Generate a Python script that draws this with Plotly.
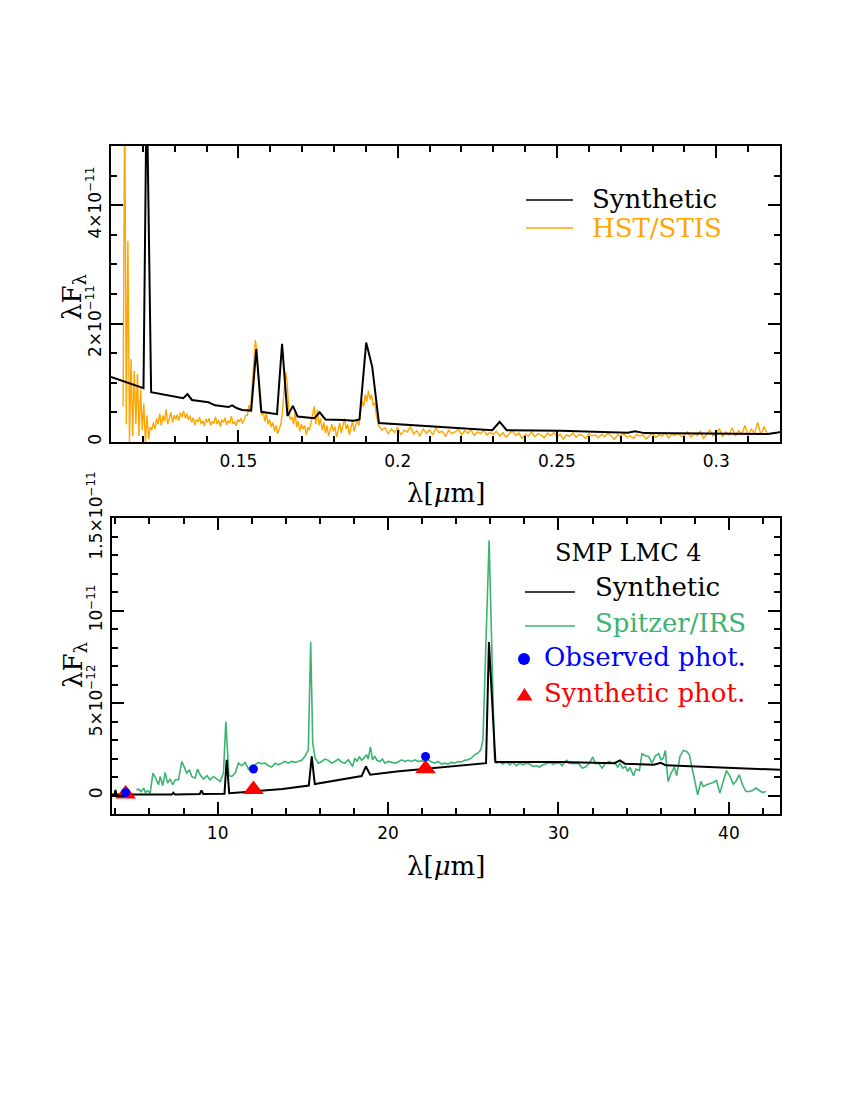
import plotly.graph_objects as go

# ---- top panel: UV (units of 1e-11) ----
syn_uv_wave = [0.110, 0.1202, 0.1212, 0.1226, 0.1327, 0.1340, 0.1354, 0.1406, 0.1427, 0.1469,
               0.1480, 0.1496, 0.1512, 0.1540, 0.1556, 0.1572, 0.1621, 0.1637, 0.1654, 0.1671,
               0.1686, 0.1738, 0.1755, 0.1773, 0.1831, 0.1862, 0.1880, 0.1901, 0.1920, 0.1941,
               0.2297, 0.2320, 0.2342, 0.2502, 0.2512, 0.2722, 0.2745, 0.2774, 0.3162, 0.3193, 0.320]
syn_uv_flux = [1.10, 0.91, 6.1, 0.84, 0.74, 0.81, 0.71, 0.67, 0.62, 0.59,
               0.62, 0.57, 0.54, 0.53, 1.57, 0.51, 0.47, 1.66, 0.44, 0.61,
               0.43, 0.40, 0.50, 0.38, 0.37, 0.36, 0.38, 1.68, 1.27, 0.32,
               0.20, 0.34, 0.20, 0.186, 0.19, 0.157, 0.18, 0.15, 0.135, 0.16, 0.17]

# HST/STIS, fine sampling below 0.1935 um
hst_start_a, hst_step_a = 0.1138, 0.0005
hst_flux_a = [0.6, 6.0, 0.3, 3.4, 0.0, 1.4, 0.1, 1.2, 0.3, 1.15, 0.1, 0.9, 0.2, 0.65, 0.0, 0.45, 0.05, 0.25,
              0.2, 0.33, 0.22, 0.4, 0.3, 0.48, 0.28, 0.45, 0.35, 0.55, 0.3, 0.42, 0.5, 0.33, 0.45,
              0.38, 0.46, 0.36, 0.5, 0.42, 0.52, 0.4, 0.48, 0.37, 0.45, 0.33, 0.41, 0.29, 0.38, 0.34,
              0.42, 0.3, 0.36, 0.27, 0.39, 0.33, 0.4, 0.28, 0.35, 0.31, 0.43, 0.3, 0.37, 0.26, 0.38,
              0.33, 0.41, 0.29, 0.36, 0.32, 0.44, 0.3, 0.35, 0.27, 0.38, 0.34, 0.4, 0.31, 0.37, 0.45,
              0.45, 0.62, 0.55, 0.9, 1.25, 1.72, 1.55, 0.95, 0.6, 0.45, 0.52, 0.35, 0.48, 0.3,
              0.38, 0.25, 0.33, 0.18, 0.28, 0.14, 0.22, 0.3,
              0.5, 0.85, 1.19, 1.0, 0.55, 0.38,
              0.42, 0.3, 0.5, 0.25, 0.35, 0.18, 0.3, 0.22, 0.28, 0.12, 0.25, 0.2, 0.34, 0.42, 0.6,
              0.3, 0.55, 0.28, 0.4, 0.2, 0.33, 0.15, 0.28, 0.1, 0.22, 0.3, 0.18, 0.26, 0.08, 0.2,
              0.32, 0.15, 0.28, 0.4, 0.22, 0.3, 0.12, 0.25, 0.35, 0.18, 0.3, 0.38, 0.28,
              0.45, 0.7, 0.6, 0.8, 0.68, 0.87, 0.72, 0.8, 0.62, 0.66, 0.45]
# coarser sampling redward
hst_start_b, hst_step_b = 0.194, 0.001
hst_flux_b = [0.28, 0.2, 0.24, 0.14, 0.22, 0.16, 0.25, 0.12, 0.2, 0.17, 0.26, 0.13, 0.19, 0.1, 0.22,
              0.15, 0.2, 0.12, 0.24, 0.16, 0.18, 0.1, 0.2, 0.14, 0.17, 0.22, 0.12, 0.19, 0.15, 0.21,
              0.11, 0.17, 0.14, 0.2, 0.12, 0.16,
              0.13, 0.18, 0.1, 0.16, 0.08, 0.14, 0.19, 0.11, 0.15, 0.06, 0.13, 0.1, 0.17, 0.09, 0.14,
              0.12, 0.07, 0.15, 0.11, 0.16,
              0.09, 0.13, 0.05, 0.12, 0.1, 0.15, 0.08, 0.13, 0.11, 0.06, 0.14, 0.1, 0.12, 0.07, 0.13,
              0.09, 0.15, 0.1, 0.04, 0.12,
              0.1, 0.14, 0.08, 0.11, 0.06, 0.13, 0.1, 0.12, 0.05, 0.11, 0.14, 0.08, 0.12, 0.1, 0.16,
              0.07, 0.13, 0.11, 0.15, 0.09,
              0.12, 0.17, 0.08, 0.14, 0.11, 0.18, 0.06, 0.13, 0.2, 0.1, 0.15, 0.22, 0.09, 0.17, 0.12,
              0.24, 0.1, 0.19, 0.13, 0.28,
              0.11, 0.22, 0.15, 0.33, 0.12, 0.26, 0.14]

# ---- bottom panel: IR (units of 1e-12) ----
syn_ir_wave = [3.8, 3.95, 4.0, 4.06, 7.3, 7.4, 7.5, 8.95, 9.05, 9.15, 10.4, 10.53, 10.68, 12.05,
               13.8, 15.35, 15.52, 15.7, 17.0, 18.45, 18.7, 18.95, 20.5, 22.2, 24.0, 25.75, 25.92,
               26.3, 30.1, 33.3, 33.6, 33.9, 35.6, 36.0, 36.3, 43.0]
syn_ir_flux = [0.05, 0.05, 0.3, 0.05, 0.05, 0.15, 0.05, 0.08, 0.28, 0.08, 0.09, 1.93, 0.12, 0.22,
               0.35, 0.54, 2.11, 0.62, 0.81, 1.05, 1.57, 1.12, 1.3, 1.45, 1.6, 1.75, 8.3,
               1.81, 1.81, 1.75, 1.9, 1.72, 1.66, 1.77, 1.63, 1.39]

irs_wave = [5.23, 5.37, 5.50, 5.66, 5.77, 5.89, 6.04, 6.20, 6.33, 6.53, 6.63, 6.78, 6.92, 7.06,
            7.21, 7.37, 7.51, 7.70, 7.90, 8.04, 8.19, 8.35, 8.48, 8.68, 8.82, 8.97, 9.17, 9.37,
            9.56, 9.75, 9.95, 10.15, 10.34, 10.48, 10.66, 10.83, 11.03, 11.22, 11.42, 11.61, 11.81,
            12.00, 12.20, 12.39, 12.59, 12.78, 12.98, 13.17, 13.37, 13.56, 13.76, 13.95, 14.15,
            14.34, 14.54, 14.73, 14.93, 15.12, 15.32, 15.46, 15.58, 15.72, 15.91, 16.11, 16.30,
            16.50, 16.69, 16.89, 17.08, 17.28, 17.47, 17.67, 17.92, 18.05, 18.19, 18.31, 18.44,
            18.58, 18.74, 18.83, 18.97, 19.09, 19.22, 19.36, 19.52, 19.67, 19.81, 20.01, 20.20,
            20.40, 20.59, 20.79, 20.98, 21.18, 21.37, 21.57, 21.76, 21.96, 22.15, 22.35, 22.55,
            22.74, 22.94, 23.13, 23.33, 23.52, 23.72, 23.91, 24.11, 24.30, 24.50, 24.69, 24.89,
            25.08, 25.28, 25.44, 25.57, 25.93, 26.25, 26.35, 26.55, 26.74, 26.94, 27.14, 27.33,
            27.53, 27.72, 27.92, 28.11, 28.31, 28.50, 28.70, 28.89, 29.09, 29.28, 29.48, 29.67,
            29.87, 30.06, 30.22, 30.35, 30.49, 30.61, 30.80, 31.00, 31.19, 31.39, 31.58, 31.82,
            32.01, 32.17, 32.36, 32.56, 32.76, 32.99, 33.15, 33.28, 33.48, 33.61, 33.77, 33.93,
            34.06, 34.20, 34.40, 34.55, 34.75, 34.90, 35.10, 35.29, 35.49, 35.69, 35.88, 36.02,
            36.15, 36.27, 36.43, 36.60, 36.80, 36.94, 37.13, 37.33, 37.52, 37.68, 37.83, 37.97,
            38.17, 38.36, 38.50, 38.69, 38.89, 39.08, 39.28, 39.47, 39.67, 39.86, 40.06, 40.26,
            40.41, 40.61, 40.80, 41.00, 41.19, 41.39, 41.58, 41.78, 41.97, 42.17]
irs_flux = [0.31, 0.34, 0.20, 0.40, 0.16, 0.27, 0.13, 1.21, 1.00, 0.58, 1.03, 0.53, 1.25, 0.67,
            0.89, 0.58, 0.85, 0.85, 1.84, 1.48, 1.21, 1.39, 1.03, 0.94, 1.43, 1.12, 0.89, 1.07,
            0.85, 1.03, 0.89, 0.76, 1.21, 4.0, 1.07, 1.03, 1.21, 1.75, 1.61, 1.79, 1.43,
            1.61, 1.66, 1.79, 1.72, 1.75, 1.61, 1.54, 1.75, 1.66, 1.75, 1.84, 1.75,
            1.84, 1.79, 1.84, 1.90, 2.11, 2.47, 8.3, 2.83, 2.02, 1.75, 1.84, 1.97,
            1.90, 1.75, 1.84, 1.97, 1.79, 1.75, 1.93, 1.57, 2.02, 1.84, 2.11, 1.90,
            2.02, 2.20, 1.97, 2.62, 1.93, 2.11, 1.90, 1.84, 1.97, 1.75, 1.84, 1.79,
            1.75, 1.81, 1.93, 1.84, 1.90, 1.84, 1.93, 1.84, 1.88, 1.84, 1.93, 1.81,
            1.75, 1.84, 1.70, 1.75, 1.70, 1.79, 1.75, 1.84, 1.81, 1.90, 1.93, 2.02,
            2.20, 2.30, 2.47, 3.02, 13.8, 1.90, 1.75, 1.81, 1.70, 1.81, 1.66, 1.79,
            1.61, 1.75, 1.66, 1.75, 1.70, 1.57, 1.61, 1.54, 1.66, 1.72, 1.79, 1.70,
            1.75, 1.75, 1.61, 1.81, 1.90, 1.75, 1.72, 1.75, 1.72, 1.48, 1.54, 1.75,
            2.08, 1.72, 1.75, 1.48, 1.75, 1.84, 1.75, 1.79, 1.54, 1.75, 1.48, 1.57,
            1.30, 1.52, 1.07, 1.43, 1.35, 2.26, 2.15, 2.11, 1.75, 2.15, 2.26, 1.93,
            2.02, 2.44, 0.76, 1.18, 1.54, 1.07, 2.11, 2.44, 2.38, 2.20, 1.48, 0.85,
            0.04, 0.76, 0.49, 0.58, 0.63, 0.70, 0.81, 0.13, 0.76, 1.35, 1.03, 0.62,
            0.76, 1.12, 0.58, 0.22, 0.22, 0.27, 0.40, 0.27, 0.16, 0.22]

obs_phot_wave = [4.6, 12.1, 22.2]
obs_phot_flux = [0.16, 1.43, 2.11]
syn_phot_wave = [4.6, 12.1, 22.2]
syn_phot_flux = [0.08, 0.32, 1.45]

hst_wave = ([hst_start_a + i * hst_step_a for i in range(len(hst_flux_a))]
            + [hst_start_b + i * hst_step_b for i in range(len(hst_flux_b))])
hst_flux = hst_flux_a + hst_flux_b

W, H = 850, 1100
OFF = 8  # page body margin
ORANGE = '#FFA500'
GREEN = '#3CB371'
SERIF = 'DejaVu Serif'
SANS = 'DejaVu Sans'


def px(x):
    return (x - OFF) / W


def py(y):
    return 1 - (y - OFF) / H


fig = go.Figure()

fig.add_trace(go.Scatter(x=hst_wave, y=[v * 1e-11 for v in hst_flux], mode='lines',
                         line=dict(color=ORANGE, width=1.4), xaxis='x', yaxis='y'))
fig.add_trace(go.Scatter(x=syn_uv_wave, y=[v * 1e-11 for v in syn_uv_flux], mode='lines',
                         line=dict(color='black', width=2), xaxis='x', yaxis='y'))

fig.add_trace(go.Scatter(x=irs_wave, y=[v * 1e-12 for v in irs_flux], mode='lines',
                         line=dict(color=GREEN, width=1.6), xaxis='x2', yaxis='y2'))
fig.add_trace(go.Scatter(x=syn_ir_wave, y=[v * 1e-12 for v in syn_ir_flux], mode='lines',
                         line=dict(color='black', width=2), xaxis='x2', yaxis='y2'))
fig.add_trace(go.Scatter(x=syn_phot_wave, y=[v * 1e-12 for v in syn_phot_flux], mode='markers',
                         marker=dict(symbol='triangle-up', size=18, color='red'),
                         xaxis='x2', yaxis='y2'))
fig.add_trace(go.Scatter(x=obs_phot_wave, y=[v * 1e-12 for v in obs_phot_flux], mode='markers',
                         marker=dict(symbol='circle', size=9, color='blue'),
                         xaxis='x2', yaxis='y2'))

axis_common = dict(showline=True, linewidth=2, linecolor='black', mirror='allticks',
                   ticks='inside', ticklen=12, tickwidth=1.5, tickcolor='black', automargin=False,
                   showgrid=False, zeroline=False, tickfont=dict(family=SANS, size=17, color='black'))
minor_common = dict(tickmode='array', ticks='inside', ticklen=6, tickwidth=1.5, tickcolor='black')

fig.update_layout(
    width=W, height=H,
    margin=dict(l=0, r=0, t=0, b=0),
    paper_bgcolor='white', plot_bgcolor='white',
    showlegend=False,
    xaxis=dict(axis_common, domain=[px(111), px(780)], anchor='y', range=[0.11, 0.32],
               tickmode='array', tickvals=[0.15, 0.2, 0.25, 0.3], ticktext=['0.15', '0.2', '0.25', '0.3'],
               ticklabelstandoff=3,
               minor=dict(minor_common, tickvals=[0.11 + 0.01 * k for k in range(22)])),
    yaxis=dict(axis_common, domain=[py(442), py(146)], anchor='x', range=[0, 5e-11],
               tickmode='array', tickvals=[0, 1e-11, 2e-11, 3e-11, 4e-11],
               ticktext=['0', '', '2×10<sup>−11</sup>', '', '4×10<sup>−11</sup>'],
               tickangle=-90, ticklabelstandoff=1,
               minor=dict(minor_common, tickvals=[0.5e-11 * k for k in range(11)])),
    xaxis2=dict(axis_common, domain=[px(112), px(780)], anchor='y2', range=[3.8, 43],
                tickmode='array', tickvals=[10, 20, 30, 40], ticktext=['10', '20', '30', '40'],
                ticklabelstandoff=3,
                minor=dict(minor_common, tickvals=list(range(4, 44, 2)))),
    yaxis2=dict(axis_common, domain=[py(814), py(518)], anchor='x2', range=[-1e-12, 1.5e-11],
                tickmode='array', tickvals=[0, 5e-12, 1e-11, 1.5e-11],
                ticktext=['0', '5×10<sup>−12</sup>', '10<sup>−11</sup>', '1.5×10<sup>−11</sup>'],
                tickangle=-90, ticklabelstandoff=1,
                minor=dict(minor_common, tickvals=[1e-12 * k for k in range(-1, 16)])),
)

ann = []
# axis titles
ann.append(dict(text='λ[<i>μ</i>m]', x=px(446), y=py(493), font=dict(family=SERIF, size=26)))
ann.append(dict(text='λ[<i>μ</i>m]', x=px(446), y=py(866), font=dict(family=SERIF, size=26)))
ann.append(dict(text='λF<sub>λ</sub>', x=px(74), y=py(297), textangle=-90, font=dict(family=SERIF, size=26)))
ann.append(dict(text='λF<sub>λ</sub>', x=px(74), y=py(665), textangle=-90, font=dict(family=SERIF, size=26)))
# legend, top panel
ann.append(dict(text='Synthetic', x=px(590), y=py(199), xanchor='left', font=dict(family=SERIF, size=26)))
ann.append(dict(text='HST/STIS', x=px(590), y=py(228), xanchor='left',
                font=dict(family=SERIF, size=26, color=ORANGE)))
# legend, bottom panel
ann.append(dict(text='SMP LMC 4', x=px(628), y=py(553), font=dict(family=SERIF, size=24)))
ann.append(dict(text='Synthetic', x=px(593), y=py(587), xanchor='left', font=dict(family=SERIF, size=26)))
ann.append(dict(text='Spitzer/IRS', x=px(593), y=py(623), xanchor='left',
                font=dict(family=SERIF, size=26, color=GREEN)))
ann.append(dict(text='Observed phot.', x=px(542), y=py(657), xanchor='left',
                font=dict(family=SERIF, size=26, color='blue')))
ann.append(dict(text='Synthetic phot.', x=px(542), y=py(693), xanchor='left',
                font=dict(family=SERIF, size=26, color='red')))
for a in ann:
    a.setdefault('xref', 'paper')
    a.setdefault('yref', 'paper')
    a.setdefault('showarrow', False)
    a.setdefault('xanchor', 'center')
    a.setdefault('yanchor', 'middle')
    a['font'].setdefault('color', 'black')
fig.update_layout(annotations=ann)

shapes = [
    dict(type='line', x0=px(526), x1=px(573), y0=py(200), y1=py(200), line=dict(color='black', width=1.5)),
    dict(type='line', x0=px(526), x1=px(573), y0=py(228), y1=py(228), line=dict(color=ORANGE, width=1.5)),
    dict(type='line', x0=px(525), x1=px(575), y0=py(592), y1=py(592), line=dict(color='black', width=1.5)),
    dict(type='line', x0=px(525), x1=px(575), y0=py(626), y1=py(626), line=dict(color=GREEN, width=1.5)),
    dict(type='circle', x0=px(518), x1=px(530), y0=py(665), y1=py(653),
         fillcolor='blue', line=dict(width=0)),
    dict(type='path', path='M {} {} L {} {} L {} {} Z'.format(px(516.5), py(700.5), px(532.5), py(700.5),
                                                          px(524.5), py(688)),
         fillcolor='red', line=dict(width=0)),
]
for s in shapes:
    s['xref'] = 'paper'
    s['yref'] = 'paper'
fig.update_layout(shapes=shapes)

fig.write_html("out.html")
